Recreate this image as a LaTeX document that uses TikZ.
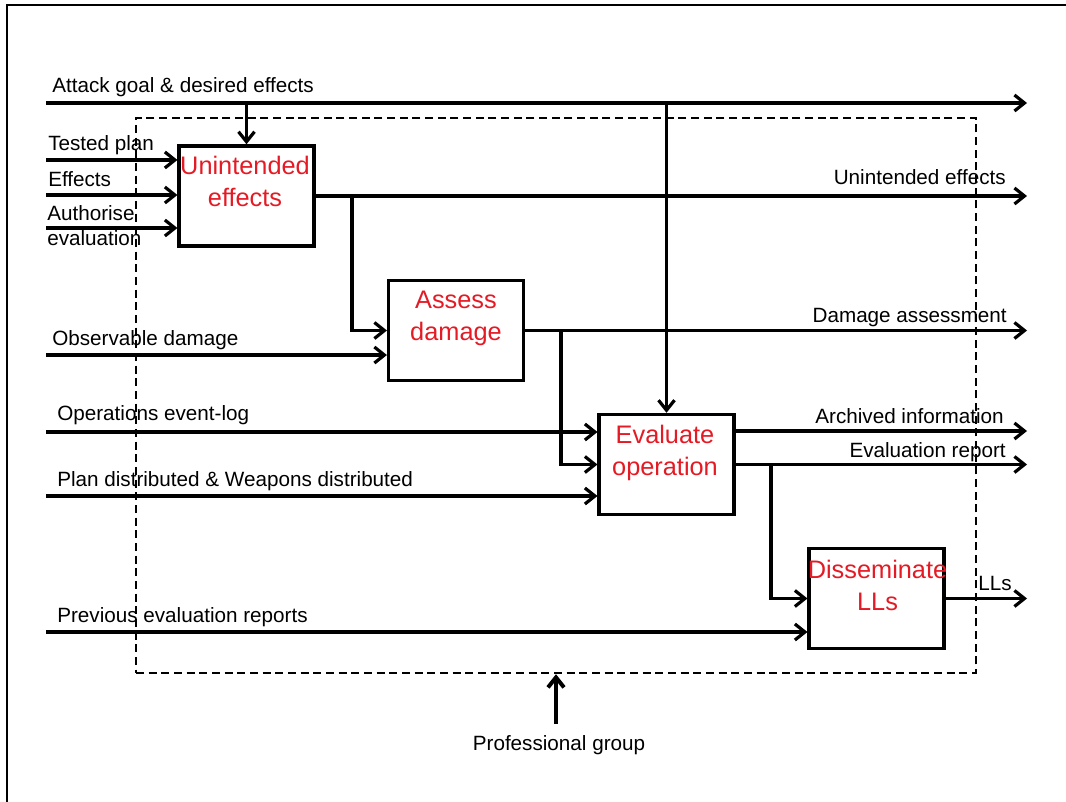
\documentclass[tikz,border=0pt]{standalone}
\usepackage{fontspec}
\setmainfont{Liberation Sans}
\usetikzlibrary{arrows.meta}
\definecolor{procred}{RGB}{228,26,36}
\begin{document}
\begin{tikzpicture}[x=0.75pt,y=-0.75pt,
  flow/.style={line width=2.4pt, -{Straight Barb[length=7.5pt,width=12pt]}},
  proc/.style={draw, line width=2.6pt, minimum width=101pt, minimum height=75pt, inner sep=0pt},
  ptext/.style={text=procred, font=\fontsize{19}{22}\selectfont, inner sep=0pt, anchor=base},
  lbl/.style={font=\fontsize{15.5}{18}\selectfont, inner sep=0pt},
  lblw/.style={lbl, anchor=base west},
  lble/.style={lbl, anchor=base east},
  context/.style={draw, line width=1.8pt, dash pattern=on 6pt off 3.5pt, minimum width=630pt, minimum height=416.25pt, inner sep=0pt},
]
\useasboundingbox (0,0) rectangle (1066,802);
% outer frame
\draw[line width=2pt] (7,802) -- (7,5) -- (1066,5);

% dashed system boundary
\node[context] (ctx) at (556,395.5) {};

% activity boxes
\node[proc] (ue) at (246.5,196) {};
\node[proc] (ad) at (456,330.5) {};
\node[proc] (ev) at (666.5,464.5) {};
\node[proc] (dl) at (876.5,598.5) {};
\node[ptext] (ue1) at (245,175) {Unintended};
\node[ptext] (ue2) at (245,207) {effects};
\node[ptext] (ad1) at (456,308) {Assess};
\node[ptext] (ad2) at (456,340) {damage};
\node[ptext] (ev1) at (665,443) {Evaluate};
\node[ptext] (ev2) at (665,475) {operation};
\node[ptext] (dl1) at (877.5,578) {Disseminate};
\node[ptext] (dl2) at (877.5,610) {LLs};

% control from above
\coordinate (ag-in) at (46,103);
\coordinate (ag-out) at (1027,103);
\draw[flow] (ag-in) -- (ag-out);
\draw[flow] (ue.north |- ag-in) -- (ue.north);
\draw[flow] (ev.north |- ag-in) -- (ev.north);

% inputs and outputs
\coordinate (tp) at (46,160);
\coordinate (ef) at (46,195);
\coordinate (au) at (46,228);
\draw[flow] (tp) -- (tp -| ue.west);
\draw[flow] (ef) -- (ef -| ue.west);
\draw[flow] (au) -- (au -| ue.west);

\coordinate (ue-out) at (1027,196);
\draw[flow] (ue.east) -- (ue-out);
\coordinate (j1) at (352,196);
\draw[flow] (j1) |- (ad.west);

\coordinate (od) at (46,355);
\draw[flow] (od) -- (od -| ad.west);
\coordinate (ad-out) at (1027,330.5);
\draw[flow] (ad.east) -- (ad-out);
\coordinate (j2) at (561,330.5);
\draw[flow] (j2) |- (ev.west);

\coordinate (ol) at (46,432);
\draw[flow] (ol) -- (ol -| ev.west);
\coordinate (pd) at (46,496);
\draw[flow] (pd) -- (pd -| ev.west);
\coordinate (ai) at (1027,431);
\draw[flow] (ai -| ev.east) -- (ai);
\coordinate (er) at (1027,464.5);
\draw[flow] (ev.east) -- (er);
\coordinate (j3) at (771,464.5);
\draw[flow] (j3) |- (dl.west);

\coordinate (pe) at (46,632);
\draw[flow] (pe) -- (pe -| dl.west);
\coordinate (ll) at (1027,598.5);
\draw[flow] (dl.east) -- (ll);

% mechanism from below
\coordinate (pg-s) at (556,724);
\draw[flow, line width=3pt] (pg-s) -- (pg-s |- ctx.south);

% labels
\node[lblw] (l-ag) at (52,93) {Attack goal \& desired effects};
\node[lblw] (l-tp) at (48,151) {Tested plan};
\node[lblw] (l-ef) at (48,187) {Effects};
\node[lblw] (l-au1) at (47,221) {Authorise};
\node[lblw] (l-au2) at (47,245) {evaluation};
\node[lblw] (l-od) at (52,345) {Observable damage};
\node[lblw] (l-ol) at (57,420) {Operations event-log};
\node[lblw] (l-pd) at (57,486) {Plan distributed \& Weapons distributed};
\node[lblw] (l-pe) at (57,622) {Previous evaluation reports};
\node[lble] (l-ue) at (1006,185) {Unintended effects};
\node[lble] (l-ad) at (1007,322) {Damage assessment};
\node[lble] (l-ai) at (1004,423) {Archived information};
\node[lble] (l-er) at (1006,457) {Evaluation report};
\node[lblw] (l-ll) at (978,590) {LLs};
\node[lbl, anchor=base] (l-pg) at (559,750) {Professional group};
\end{tikzpicture}
\end{document}
